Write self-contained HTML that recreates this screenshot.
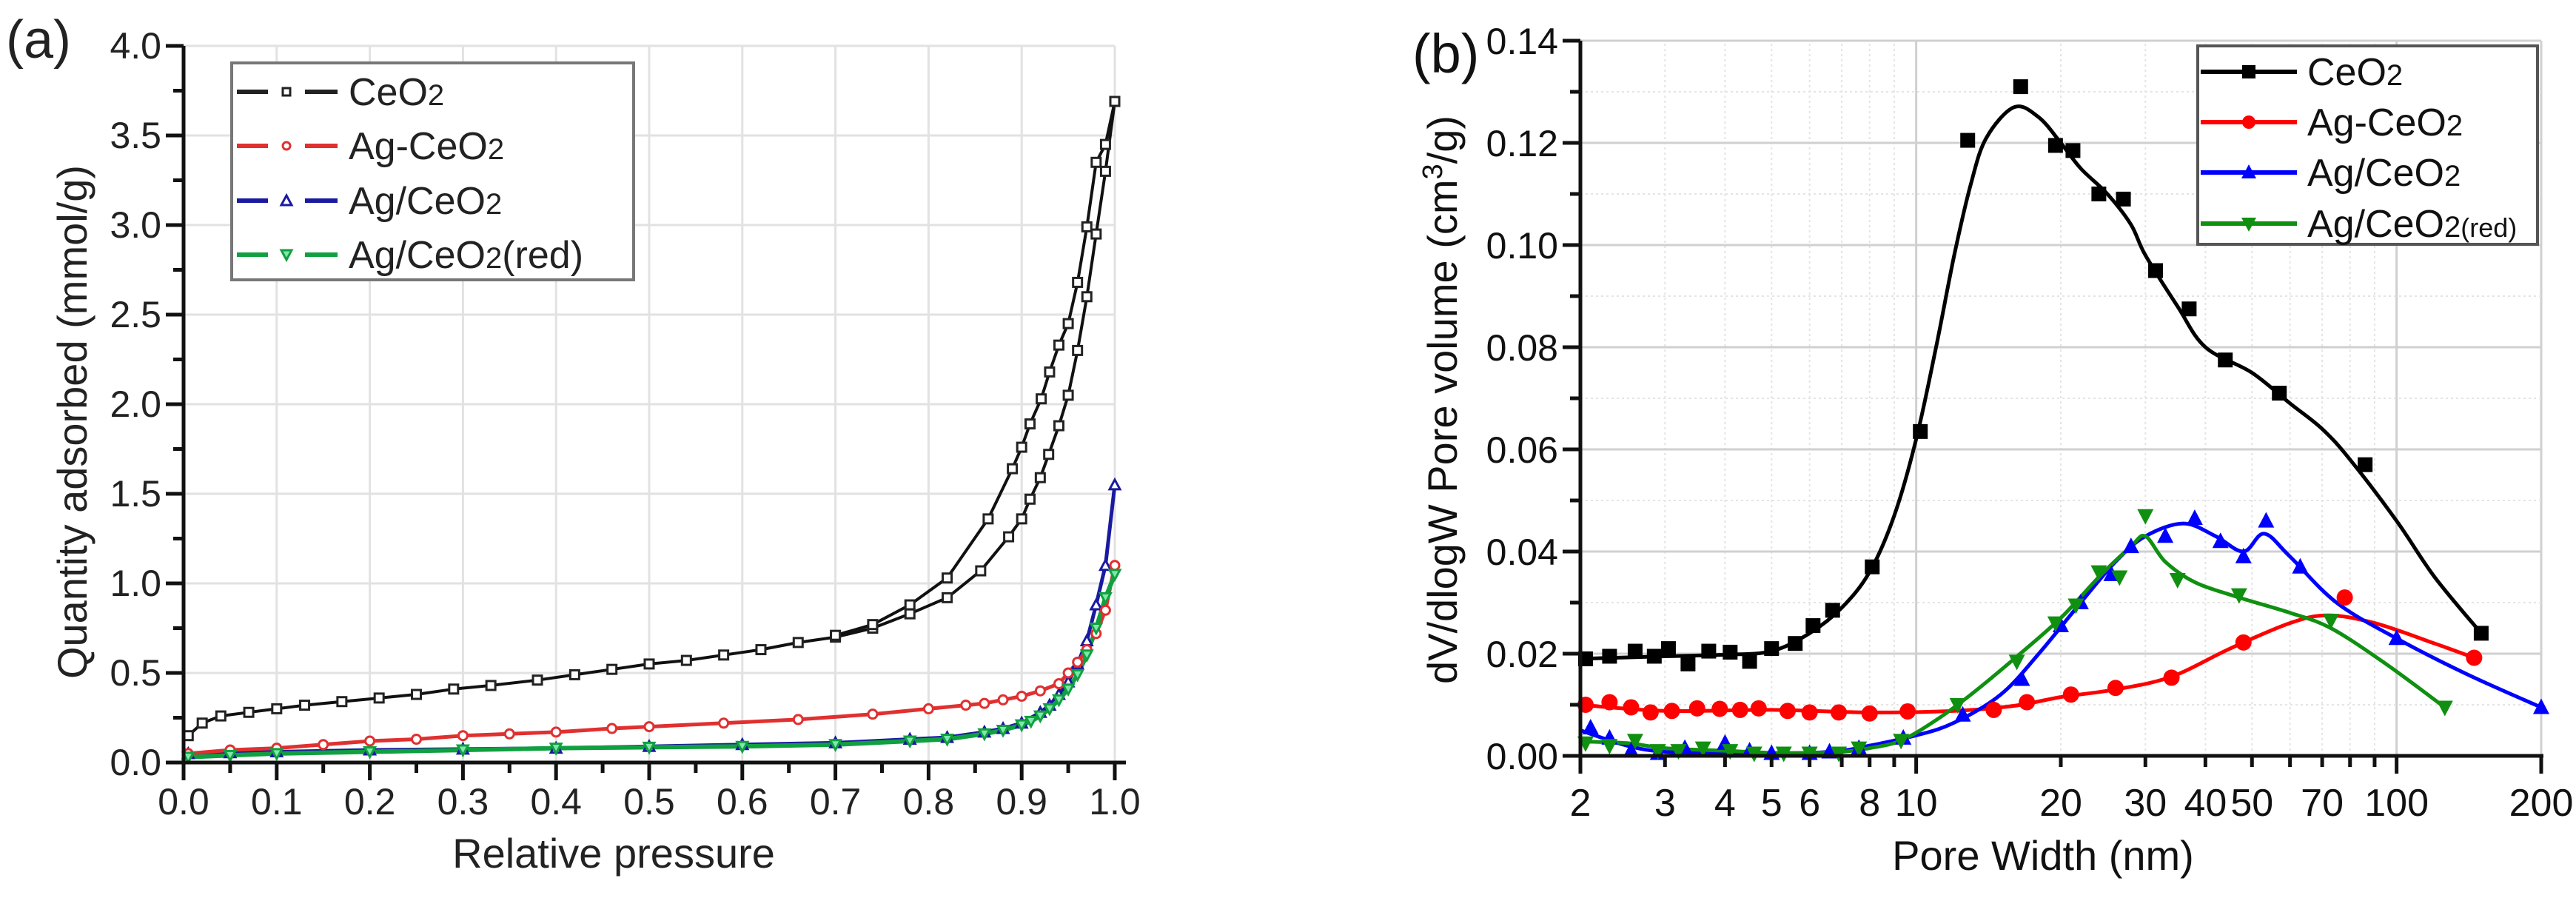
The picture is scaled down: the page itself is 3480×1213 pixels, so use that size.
<!DOCTYPE html>
<html><head><meta charset="utf-8"><style>
html,body{margin:0;padding:0;background:#fff;}
svg{display:block;font-family:"Liberation Sans",Arial,sans-serif;}
</style></head><body>
<svg id="fig" width="3480" height="1213" viewBox="0 0 3480 1213" xmlns="http://www.w3.org/2000/svg">
<g id="pa"></g>
<g id="pb"></g>
</svg>
<script>
// ---------- Panel (a) data ----------
const aXTicks = [0,0.1,0.2,0.3,0.4,0.5,0.6,0.7,0.8,0.9,1.0];
const aYTicks = [0,0.5,1.0,1.5,2.0,2.5,3.0,3.5,4.0];
const ceAdsX = [0.005,0.02,0.04,0.07,0.1,0.13,0.17,0.21,0.25,0.29,0.33,0.38,0.42,0.46,0.5,0.54,0.58,0.62,0.66,0.7,0.74,0.78,0.82,0.856,0.886,0.9,0.909,0.92,0.929,0.94,0.95,0.96,0.97,0.98,0.99,1.0];
const ceAdsY = [0.15,0.22,0.26,0.28,0.3,0.32,0.34,0.36,0.38,0.41,0.43,0.46,0.49,0.52,0.55,0.57,0.6,0.63,0.67,0.7,0.75,0.83,0.92,1.07,1.26,1.36,1.47,1.59,1.72,1.88,2.05,2.3,2.6,2.95,3.3,3.69];
const ceDesX = [0.7,0.74,0.78,0.82,0.864,0.89,0.9,0.909,0.921,0.93,0.94,0.95,0.96,0.97,0.98,0.99,1.0];
const ceDesY = [0.71,0.77,0.88,1.03,1.36,1.64,1.76,1.89,2.03,2.18,2.33,2.45,2.68,2.99,3.35,3.45,3.69];
const agDashX = [0.005,0.05,0.1,0.15,0.2,0.25,0.3,0.35,0.4,0.46,0.5,0.58,0.66,0.74,0.8,0.84,0.86,0.88,0.9,0.92,0.94,0.95,0.96,0.97,0.98,0.99,1.0];
const agDashY = [0.05,0.07,0.08,0.1,0.12,0.13,0.15,0.16,0.17,0.19,0.2,0.22,0.24,0.27,0.3,0.32,0.33,0.35,0.37,0.4,0.44,0.5,0.56,0.63,0.72,0.85,1.1];
const agSlashX = [0.005,0.05,0.1,0.2,0.3,0.4,0.5,0.6,0.7,0.78,0.82,0.86,0.88,0.9,0.92,0.93,0.94,0.95,0.96,0.97,0.98,0.99,1.0];
const agSlashY = [0.05,0.055,0.06,0.07,0.075,0.08,0.09,0.1,0.11,0.13,0.14,0.17,0.19,0.22,0.28,0.32,0.38,0.45,0.55,0.68,0.88,1.1,1.55];
const agRedX = [0.005,0.05,0.1,0.2,0.3,0.4,0.5,0.6,0.7,0.78,0.82,0.86,0.88,0.9,0.91,0.92,0.93,0.94,0.95,0.96,0.97,0.98,0.99,1.0];
const agRedY = [0.03,0.04,0.05,0.06,0.07,0.08,0.085,0.09,0.1,0.12,0.13,0.16,0.18,0.21,0.23,0.26,0.3,0.35,0.41,0.49,0.6,0.75,0.92,1.05];

// ---------- Panel (b) data ----------
const bXTicks = [2,3,4,5,6,8,10,20,30,40,50,70,100,200];
const bYTicks = [0,0.02,0.04,0.06,0.08,0.10,0.12,0.14];
const ceX = [2.05,2.3,2.6,2.85,3.05,3.35,3.7,4.1,4.5,5,5.6,6.1,6.7,8.1,10.2,12.8,16.5,19.5,21.2,24,27,31.5,37,44,57,86,150];
const ceY = [0.019,0.0195,0.0205,0.0195,0.021,0.018,0.0205,0.0203,0.0185,0.021,0.022,0.0255,0.0285,0.037,0.0635,0.1205,0.131,0.1195,0.1185,0.110,0.109,0.095,0.0875,0.0775,0.071,0.057,0.024];
const ceFitX = [2,3,4,5,6,7,8,9,10,11,12,13,14,16,18,20,22,25,28,30,35,40,50,60,70,80,100,120,150];
const ceFitY = [0.019,0.0195,0.0198,0.0205,0.024,0.029,0.036,0.047,0.062,0.08,0.098,0.112,0.121,0.127,0.125,0.12,0.115,0.11,0.104,0.098,0.088,0.08,0.075,0.069,0.064,0.058,0.046,0.035,0.024];
const agcX = [2.05,2.3,2.55,2.8,3.1,3.5,3.9,4.3,4.7,5.4,6,6.9,8,9.6,14.5,17,21,26,34,48,78,145];
const agcY = [0.010,0.0105,0.0095,0.0085,0.0088,0.0093,0.0092,0.009,0.0093,0.0088,0.0085,0.0085,0.0083,0.0087,0.009,0.0105,0.012,0.0133,0.0153,0.0222,0.031,0.0192];
const agcFitX = [2,3,5,8,12,16,20,26,34,45,60,72,90,120,145];
const agcFitY = [0.010,0.0088,0.009,0.0085,0.0088,0.0098,0.0115,0.013,0.0155,0.021,0.026,0.0275,0.026,0.022,0.0192];
const agsX = [2.1,2.3,2.55,2.9,3.3,4,4.5,5,6,6.6,7.6,9.4,12.5,16.6,20,22,25.5,28,33,38,43,48,53.5,63,100,200];
const agsY = [0.0055,0.0035,0.001,0.0005,0.0015,0.0025,0.001,0.0005,0.0005,0.0008,0.0015,0.0035,0.008,0.015,0.0255,0.030,0.0355,0.041,0.043,0.0465,0.042,0.039,0.046,0.037,0.023,0.0095];
const agsFitX = [2,2.5,3,4,5,6,7,8,10,12,15,18,22,26,30,36,42,48,53,60,75,100,140,200];
const agsFitY = [0.005,0.002,0.0008,0.0006,0.0005,0.0006,0.001,0.002,0.004,0.0065,0.012,0.02,0.03,0.038,0.043,0.0455,0.043,0.040,0.0435,0.039,0.03,0.023,0.016,0.0095];
const agrX = [2.05,2.3,2.6,2.9,3.2,3.6,4.1,4.6,5.3,6,6.9,7.6,9.3,12.2,16.2,19.5,21.5,24,26.5,30,35,47,73,126];
const agrY = [0.0025,0.002,0.003,0.001,0.001,0.0015,0.001,0.0005,0.0005,0.0005,0.0005,0.0015,0.003,0.010,0.0185,0.026,0.0295,0.036,0.035,0.047,0.0345,0.0315,0.0265,0.0095];
const agrFitX = [2,2.5,3,4,5,6,7,8,9.3,11,13,16,20,24,28,30,33,38,47,60,73,95,126];
const agrFitY = [0.0028,0.0025,0.0015,0.001,0.0006,0.0006,0.0008,0.0015,0.003,0.007,0.012,0.019,0.027,0.035,0.041,0.043,0.038,0.034,0.031,0.028,0.025,0.018,0.0095];

const NS="http://www.w3.org/2000/svg";
function mk(parent,tag,attrs){const e=document.createElementNS(NS,tag);for(const k in attrs)e.setAttribute(k,attrs[k]);parent.appendChild(e);return e;}

// ---------- Panel (a) ----------
const A={x0:248,x1:1506,y0:1030,y1:62};
const ax=v=>A.x0+(v-0)/(1-0)*(A.x1-A.x0);
const ay=v=>A.y0-(v/4)*(A.y0-A.y1);
const pa=document.getElementById('pa');

aXTicks.forEach(t=>{if(t>0){const g=mk(pa,'line',{x1:ax(t),x2:ax(t),y1:A.y0,y2:A.y1,stroke:'#e2e2e2','stroke-width':3});}});
aYTicks.forEach(t=>{if(t>0){const g=mk(pa,'line',{x1:A.x0,x2:A.x1,y1:ay(t),y2:ay(t),stroke:'#e2e2e2','stroke-width':3});}});

function lineA(xs,ys,color,w,name){
  const d=xs.map((x,i)=>(i?'L':'M')+ax(x).toFixed(1)+','+ay(ys[i]).toFixed(1)).join('');
  const p=mk(pa,'path',{d:d,fill:'none',stroke:color,'stroke-width':w,'stroke-linejoin':'round'});
  
  
}
function markA(xs,ys,color,shape,name,fill){
  xs.forEach((x,i)=>{
    const cx=ax(x),cy=ay(ys[i]);let e;
    if(shape==='sq')e=mk(pa,'rect',{x:cx-6,y:cy-6,width:12,height:12,fill:fill,stroke:color,'stroke-width':3});
    else if(shape==='ci')e=mk(pa,'circle',{cx:cx,cy:cy,r:6,fill:fill,stroke:color,'stroke-width':3});
    else if(shape==='tu')e=mk(pa,'path',{d:`M${cx},${cy-7}L${cx+7},${cy+6}L${cx-7},${cy+6}Z`,fill:fill,stroke:color,'stroke-width':3});
    else e=mk(pa,'path',{d:`M${cx-7},${cy-6}L${cx+7},${cy-6}L${cx},${cy+7}Z`,fill:fill,stroke:color,'stroke-width':3});
    
    
  });
}
lineA(agSlashX,agSlashY,'#1a1aa0',5,'ag-ceo2-slash-line');
lineA(agDashX,agDashY,'#e03030',5,'ag-ceo2-dash-line');
lineA(agRedX,agRedY,'#10a040',6,'ag-ceo2-red-line');
markA(agSlashX,agSlashY,'#1a1aa0','tu','ag-ceo2-slash-point','#fff');
markA(agDashX,agDashY,'#e03030','ci','ag-ceo2-dash-point','#fff');
markA(agRedX,agRedY,'#10a040','td','ag-ceo2-red-point','#7fe8a8');
lineA(ceAdsX,ceAdsY,'#111',4,'ceo2-adsorption-line');
lineA(ceDesX,ceDesY,'#111',4,'ceo2-desorption-line');
markA(ceAdsX,ceAdsY,'#222','sq','ceo2-adsorption-point','#fff');
markA(ceDesX,ceDesY,'#222','sq','ceo2-desorption-point','#fff');

// axes a
let e=mk(pa,'line',{x1:A.x0,x2:A.x0,y1:A.y1,y2:A.y0+1,stroke:'#111','stroke-width':5});

e=mk(pa,'line',{x1:A.x0-3,x2:A.x1+15,y1:A.y0,y2:A.y0,stroke:'#111','stroke-width':5});

aXTicks.forEach((t,i)=>{
  const tk=mk(pa,'line',{x1:ax(t),x2:ax(t),y1:A.y0,y2:A.y0+24,stroke:'#111','stroke-width':5});
  
  if(i<aXTicks.length-1){const m=mk(pa,'line',{x1:ax(t+0.05),x2:ax(t+0.05),y1:A.y0,y2:A.y0+14,stroke:'#111','stroke-width':5});}
  const l=mk(pa,'text',{x:ax(t),y:1100,'font-size':50,'text-anchor':'middle',fill:'#222'});l.textContent=t.toFixed(1);
  
});
aYTicks.forEach((t,i)=>{
  const tk=mk(pa,'line',{x1:A.x0-24,x2:A.x0,y1:ay(t),y2:ay(t),stroke:'#111','stroke-width':5});
  
  if(i<aYTicks.length-1){const m=mk(pa,'line',{x1:A.x0-14,x2:A.x0,y1:ay(t+0.25),y2:ay(t+0.25),stroke:'#111','stroke-width':5});}
  const l=mk(pa,'text',{x:A.x0-30,y:ay(t)+17,'font-size':50,'text-anchor':'end',fill:'#222'});l.textContent=t.toFixed(1);
  
});
e=mk(pa,'text',{x:829,y:1172,'font-size':56,'text-anchor':'middle',fill:'#222'});e.textContent='Relative pressure';

e=mk(pa,'text',{x:0,y:0,'font-size':56,'text-anchor':'middle',fill:'#222',transform:'translate(117,570) rotate(-90)'});e.textContent='Quantity adsorbed (mmol/g)';

e=mk(pa,'text',{x:8,y:78,'font-size':72,fill:'#222'});e.textContent='(a)';

// legend a
const lgA=mk(pa,'g',{});
e=mk(lgA,'rect',{x:313,y:85,width:543,height:293,fill:'#fff',stroke:'#777','stroke-width':4});

const legA=[['CeO','₂','',"#222",'sq','#fff'],['Ag-CeO','₂','','#e03030','ci','#fff'],['Ag/CeO','₂','','#1a1aa0','tu','#fff'],['Ag/CeO','₂','(red)','#10a040','td','#7fe8a8']];
const legAY=[124,197,271,344];
legA.forEach((L,i)=>{
  const y=legAY[i];const g=mk(lgA,'g',{});
  
  mk(g,'line',{x1:320,x2:362,y1:y,y2:y,stroke:L[3],'stroke-width':6});
  mk(g,'line',{x1:412,x2:456,y1:y,y2:y,stroke:L[3],'stroke-width':6});
  const cx=387,cy=y;
  if(L[4]==='sq')mk(g,'rect',{x:cx-5,y:cy-5,width:10,height:10,fill:'#fff',stroke:L[3],'stroke-width':3});
  else if(L[4]==='ci')mk(g,'circle',{cx:cx,cy:cy,r:5,fill:'#fff',stroke:L[3],'stroke-width':3});
  else if(L[4]==='tu')mk(g,'path',{d:`M${cx},${cy-7}L${cx+7},${cy+6}L${cx-7},${cy+6}Z`,fill:'#fff',stroke:L[3],'stroke-width':3});
  else mk(g,'path',{d:`M${cx-7},${cy-6}L${cx+7},${cy-6}L${cx},${cy+7}Z`,fill:L[5],stroke:L[3],'stroke-width':3});
  const t=mk(g,'text',{x:471,y:y+18,'font-size':52,fill:'#222'});
  t.innerHTML=L[0]+'<tspan font-size="40">2</tspan>'+L[2];
});

// ---------- Panel (b) ----------
const B={x0:2135,x1:3433,y0:1021,y1:55,lmin:Math.log10(2),lmax:Math.log10(200)};
const bx=v=>B.x0+(Math.log10(v)-B.lmin)/(B.lmax-B.lmin)*(B.x1-B.x0);
const by=v=>B.y0-(v/0.14)*(B.y0-B.y1);
const pb=document.getElementById('pb');
[2,3,4,5,6,7,8,9,10,20,30,40,50,60,70,80,90,100,200].forEach(t=>{
  const major=(t===10||t===100||t===200);
  const g=mk(pb,'line',{x1:bx(t),x2:bx(t),y1:B.y0,y2:B.y1,stroke:major?'#d0d0d0':'#e4e4e4','stroke-width':major?3:2,'stroke-dasharray':major?'none':'3,4'});
  
});
for(let v=0.01;v<0.141;v+=0.01){
  const major=Math.round(v*100)%2===0;
  const g=mk(pb,'line',{x1:B.x0,x2:B.x1,y1:by(v),y2:by(v),stroke:major?'#d0d0d0':'#e4e4e4','stroke-width':major?3:2,'stroke-dasharray':major?'none':'3,4'});
  
}
function smooth(xs,ys){
  const P=xs.map((x,i)=>[bx(x),by(ys[i])]);
  let d='M'+P[0][0].toFixed(1)+','+P[0][1].toFixed(1);
  for(let i=0;i<P.length-1;i++){
    const p0=P[i-1]||P[i],p1=P[i],p2=P[i+1],p3=P[i+2]||P[i+1];
    const c1=[p1[0]+(p2[0]-p0[0])/6,p1[1]+(p2[1]-p0[1])/6];
    const c2=[p2[0]-(p3[0]-p1[0])/6,p2[1]-(p3[1]-p1[1])/6];
    d+=`C${c1[0].toFixed(1)},${c1[1].toFixed(1)} ${c2[0].toFixed(1)},${c2[1].toFixed(1)} ${p2[0].toFixed(1)},${p2[1].toFixed(1)}`;
  }
  return d;
}
function curveB(xs,ys,color,name){
  const p=mk(pb,'path',{d:smooth(xs,ys),fill:'none',stroke:color,'stroke-width':5});
  
  
}
function markB(xs,ys,color,shape,name){
  xs.forEach((x,i)=>{
    const cx=bx(x),cy=by(ys[i]);let e;
    if(shape==='sq')e=mk(pb,'rect',{x:cx-10,y:cy-10,width:20,height:20,fill:color});
    else if(shape==='ci')e=mk(pb,'circle',{cx:cx,cy:cy,r:11,fill:color});
    else if(shape==='tu')e=mk(pb,'path',{d:`M${cx},${cy-12}L${cx+11},${cy+9}L${cx-11},${cy+9}Z`,fill:color});
    else e=mk(pb,'path',{d:`M${cx-11},${cy-9}L${cx+11},${cy-9}L${cx},${cy+12}Z`,fill:color});
    
    
  });
}
curveB(agcFitX,agcFitY,'#ff0000','ag-ceo2-dash-curve');
curveB(agsFitX,agsFitY,'#0000ff','ag-ceo2-slash-curve');
curveB(agrFitX,agrFitY,'#109010','ag-ceo2-red-curve');
curveB(ceFitX,ceFitY,'#000','ceo2-curve');
markB(agcX,agcY,'#ff0000','ci','ag-ceo2-dash-point');
markB(agsX,agsY,'#0000ff','tu','ag-ceo2-slash-point');
markB(agrX,agrY,'#109010','td','ag-ceo2-red-point');
markB(ceX,ceY,'#000','sq','ceo2-point');

e=mk(pb,'line',{x1:B.x0,x2:B.x0,y1:B.y1,y2:B.y0+1,stroke:'#111','stroke-width':5});

e=mk(pb,'line',{x1:B.x0-20,x2:B.x1+3,y1:B.y0,y2:B.y0,stroke:'#111','stroke-width':5});

[2,3,4,5,6,7,8,9,10,20,30,40,50,60,70,80,90,100,200].forEach(t=>{
  const major=(t===2||t===10||t===100||t===200);
  const tk=mk(pb,'line',{x1:bx(t),x2:bx(t),y1:B.y0,y2:B.y0+(major?24:15),stroke:'#111','stroke-width':5});
  
});
bXTicks.forEach(t=>{
  const l=mk(pb,'text',{x:bx(t),y:1102,'font-size':52,'text-anchor':'middle',fill:'#111'});l.textContent=t;
  
});
bYTicks.forEach((t,i)=>{
  const tk=mk(pb,'line',{x1:B.x0-24,x2:B.x0,y1:by(t),y2:by(t),stroke:'#111','stroke-width':5});
  
  if(i<bYTicks.length-1){const m=mk(pb,'line',{x1:B.x0-14,x2:B.x0,y1:by(t+0.01),y2:by(t+0.01),stroke:'#111','stroke-width':5});}
  const l=mk(pb,'text',{x:B.x0-30,y:by(t)+18,'font-size':50,'text-anchor':'end',fill:'#111'});l.textContent=t.toFixed(2);
  
});
e=mk(pb,'text',{x:2760,y:1175,'font-size':56,'text-anchor':'middle',fill:'#111'});e.textContent='Pore Width (nm)';

e=mk(pb,'text',{x:0,y:0,'font-size':56,'text-anchor':'middle',fill:'#111',transform:'translate(1968,540) rotate(-90)'});
e.innerHTML='dV/dlogW Pore volume (cm<tspan font-size="38" dy="-20">3</tspan><tspan dy="20">/g)</tspan>';

e=mk(pb,'text',{x:1908,y:98,'font-size':74,fill:'#111'});e.textContent='(b)';

// legend b
const lgB=mk(pb,'g',{});
e=mk(lgB,'rect',{x:2969,y:62,width:459,height:268,fill:'#fff',stroke:'#555','stroke-width':4});

const legB=[['CeO','','#000','sq'],['Ag-CeO','','#ff0000','ci'],['Ag/CeO','','#0000ff','tu'],['Ag/CeO','(red)','#109010','td']];
const legBY=[97,165,233,302];
legB.forEach((L,i)=>{
  const y=legBY[i];const g=mk(lgB,'g',{});
  
  mk(g,'line',{x1:2973,x2:3103,y1:y,y2:y,stroke:L[2],'stroke-width':6});
  const cx=3038,cy=y;
  if(L[3]==='sq')mk(g,'rect',{x:cx-9,y:cy-9,width:18,height:18,fill:L[2]});
  else if(L[3]==='ci')mk(g,'circle',{cx:cx,cy:cy,r:9,fill:L[2]});
  else if(L[3]==='tu')mk(g,'path',{d:`M${cx},${cy-11}L${cx+10},${cy+8}L${cx-10},${cy+8}Z`,fill:L[2]});
  else mk(g,'path',{d:`M${cx-10},${cy-8}L${cx+10},${cy-8}L${cx},${cy+11}Z`,fill:L[2]});
  const t=mk(g,'text',{x:3117,y:y+18,'font-size':52,fill:'#111'});
  t.innerHTML=L[0]+'<tspan font-size="40">2</tspan>'+(L[1]?'<tspan font-size="36">'+L[1]+'</tspan>':'');
});
</script>
</body></html>
